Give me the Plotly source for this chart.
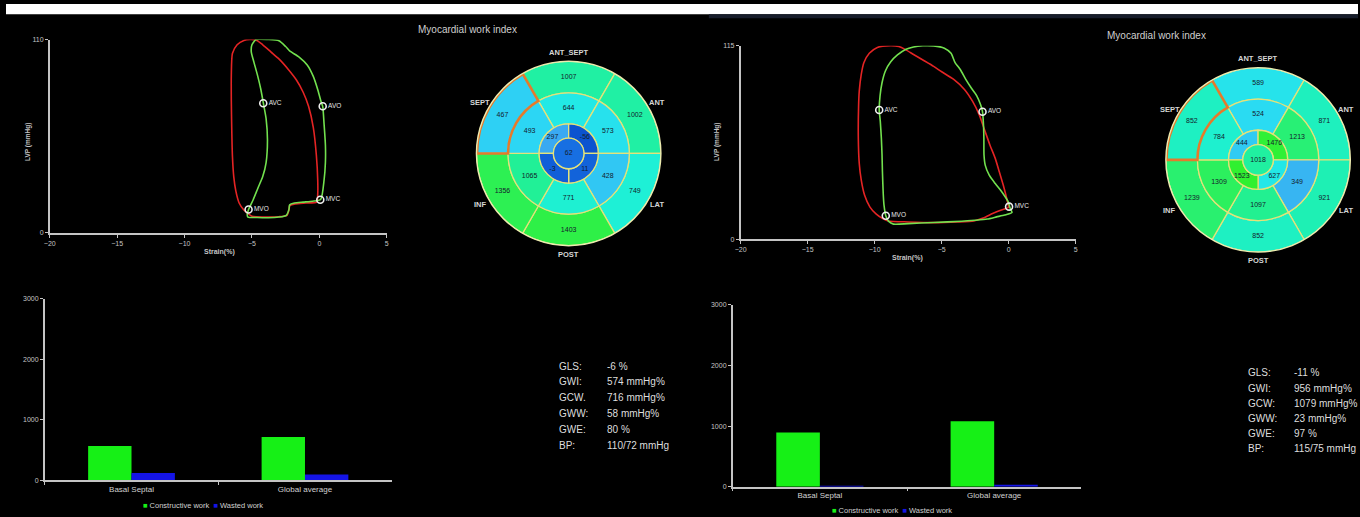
import math
import plotly.graph_objects as go

W, H = 1360, 517

# ---------------- pressure-strain loops (strain %, LVP mmHg) ----------------
left_red_strain = [-5.05, -5.6, -6.1, -6.45, -6.53, -6.53, -6.5, -6.45, -6.35, -6.2, -5.95, -5.6, -5.3,
                   -5.0, -4.0, -3.0, -2.4, -2.25, -2.2, -1.8, -1.0, -0.2,
                   -0.12, -0.12, -0.22, -0.45, -0.8, -1.2, -1.7, -2.3, -3.0, -3.6, -4.2, -4.6, -5.05]
left_red_lvp = [110, 109.5, 107, 102, 90, 75, 60, 44, 32, 24, 17, 13, 11,
                9.5, 9.0, 9.2, 10, 13, 15.5, 16.5, 17.0, 17.5,
                22, 30, 44, 60, 72, 80, 87, 93, 99, 103, 107, 109.3, 110]

left_green_strain = [-4.7, -3.8, -3.0, -2.5, -2.2, -1.5, -0.9, -0.45, -0.1, 0.15, 0.25, 0.35, 0.45, 0.45,
                     0.35, 0.1, -0.5, -1.2, -1.85, -2.2, -2.25, -2.45, -3.0, -3.8, -4.6, -5.3, -5.35,
                     -5.25, -4.9, -4.56, -4.2, -3.95, -3.85, -3.95, -4.15, -4.35, -4.6, -4.85, -5.05, -5.0, -4.7]
left_green_lvp = [110, 110, 109.3, 106, 103.5, 100, 95.5, 89, 81, 74, 72, 62, 50, 40,
                  30, 19, 18, 17.5, 17, 16, 13.5, 10, 9.0, 8.6, 8.7, 9.0, 10.5,
                  13.3, 19, 25.4, 32, 40, 53, 65, 73.7, 82, 90, 97, 103, 107, 110]

right_red_strain = [-8.8, -9.8, -10.4, -10.8, -11.0, -11.15, -11.2, -11.22, -11.15, -11.0, -10.75, -10.35,
                    -9.9, -9.4, -9.0, -7.5, -5.6, -3.8, -2.6, -1.9, -1.2, -0.6, -0.02,
                    -0.1, -0.4, -0.7, -1.0, -1.4, -1.8, -2.2, -2.7, -3.3, -4.1, -5.0, -5.6, -6.4,
                    -7.1, -7.7, -8.2, -8.8]
right_red_lvp = [115, 114, 110.5, 105, 98, 88, 79, 60, 45, 35, 26, 19,
                 15, 12.2, 10.8, 10.2, 9.8, 10.2, 10.8, 12.5, 15.2, 17.2, 18.8,
                 22.5, 32, 40, 48, 56, 65, 74, 82, 89, 95, 99.5, 102.7, 106.5,
                 109.8, 112.7, 114.5, 115]

right_green_strain = [-7.1, -6.4, -5.6, -4.8, -4.3, -4.0, -3.6, -3.2, -2.8, -2.4, -2.1, -1.95, -1.88,
                      -1.85, -1.84, -1.75, -1.45, -1.0, -0.6, -0.25, -0.02, 0.1, 0.25, -0.3, -0.9,
                      -1.6, -2.5, -3.5, -5.6, -7.5, -8.6, -8.95, -9.17, -9.3, -9.36, -9.42, -9.45,
                      -9.5, -9.58, -9.66, -9.6, -9.45, -9.2, -8.8, -8.3, -7.7, -7.1]
right_green_lvp = [114.3, 115, 114.9, 113.5, 110.5, 105, 100.7, 95, 90, 85.5, 80, 75.7, 68,
                   60, 50, 44, 38, 33, 29, 25, 22, 18.6, 15.8, 14.3, 13.2,
                   11.9, 11.2, 10.6, 9.9, 9.2, 8.9, 10.5, 13.9, 20, 27, 40, 50,
                   60, 70, 76.8, 85, 93, 100, 105.5, 109.5, 112.8, 114.3]

valve_events = ["AVC", "AVO", "MVC", "MVO"]
left_event_strain = [-4.16, 0.25, 0.07, -5.25]
left_event_lvp = [73.7, 72.0, 18.8, 13.3]
right_event_strain = [-9.66, -1.95, 0.03, -9.17]
right_event_lvp = [76.8, 75.7, 19.3, 13.9]

strain_ticks = [-20, -15, -10, -5, 0, 5]
left_lvp_max = 110
right_lvp_max = 115

# ---------------- work bars ----------------
bar_categories = ["Basal Septal", "Global average"]
left_constructive = [570, 716]
left_wasted = [125, 100]
right_constructive = [895, 1079]
right_wasted = [6, 23]
work_ticks = [0, 1000, 2000, 3000]

# ---------------- 17-segment bull's eye (mmHg%) ----------------
# basal / mid order: ANT_SEPT, ANT, LAT, POST, INF, SEPT
# apical order: upper-left, upper-right, lower-right, lower-left
left_basal = [1007, 1002, 749, 1403, 1356, 467]
left_mid = [644, 573, 428, 771, 1065, 493]
left_apical = [297, -56, 11, -3]
left_apex = 62

right_basal = [589, 871, 921, 852, 1239, 852]
right_mid = [524, 1213, 349, 1097, 1309, 784]
right_apical = [444, 1476, 627, 1523]
right_apex = 1018

wall_names = ["ANT_SEPT", "ANT", "LAT", "POST", "INF", "SEPT"]

left_stats = [("GLS:", "-6 %"), ("GWI:", "574 mmHg%"), ("GCW.", "716 mmHg%"),
              ("GWW:", "58 mmHg%"), ("GWE:", "80 %"), ("BP:", "110/72 mmHg")]
right_stats = [("GLS:", "-11 %"), ("GWI:", "956 mmHg%"), ("GCW:", "1079 mmHg%"),
               ("GWW:", "23 mmHg%"), ("GWE:", "97 %"), ("BP:", "115/75 mmHg")]

FONT = "Liberation Sans, Arial, sans-serif"
AXIS_GREY = "#c4c4c4"
TEXT_GREY = "#d2d2d2"
RED = "#e42424"
GREEN = "#72e04e"
BAR_GREEN = "#16f016"
BAR_BLUE = "#1414e6"
SEG_LINE = "#e4e27a"
HIGHLIGHT = "#e47a2c"

# ring radii in px of the bull's eye (apex, apical, mid, basal outer)
R_APEX, R_APICAL, R_MID, R_OUT = 15.5, 30.0, 61.5, 93.5
SEG_THETA = [90, 30, 330, 270, 210, 150]
APICAL_THETA = [135, 45, 315, 225]

WORK_SCALE = [[0.0, "#0848c8"], [0.125, "#1a78e8"], [0.25, "#3aaaf2"], [0.375, "#2cd8f4"],
              [0.5, "#1ef0e0"], [0.625, "#1ef0b8"], [0.75, "#22f090"], [0.875, "#2cf060"],
              [1.0, "#30f030"]]
W_MIN, W_MAX = -100, 1500


def fx(p):
    return p / W


def fy(p):
    return 1 - p / H


fig = go.Figure()


def add_loop(red_s, red_p, green_s, green_p, ev_s, ev_p, xa, ya):
    fig.add_trace(go.Scatter(x=red_s, y=red_p, mode="lines",
                             line=dict(color=RED, width=1.6, shape="spline", smoothing=0.6),
                             xaxis=xa, yaxis=ya, showlegend=False, hoverinfo="skip"))
    fig.add_trace(go.Scatter(x=green_s, y=green_p, mode="lines",
                             line=dict(color=GREEN, width=1.6, shape="spline", smoothing=0.6),
                             xaxis=xa, yaxis=ya, showlegend=False, hoverinfo="skip"))
    fig.add_trace(go.Scatter(x=ev_s, y=ev_p, mode="markers+text", text=valve_events, textposition="middle right",
                             textfont=dict(family=FONT, size=6.5, color="#e6e6e6"),
                             marker=dict(symbol="circle-open", size=7, color="#eeeeee", line=dict(width=1.6)),
                             xaxis=xa, yaxis=ya, showlegend=False, hoverinfo="skip"))


add_loop(left_red_strain, left_red_lvp, left_green_strain, left_green_lvp,
         left_event_strain, left_event_lvp, "x", "y")
add_loop(right_red_strain, right_red_lvp, right_green_strain, right_green_lvp,
         right_event_strain, right_event_lvp, "x3", "y3")


def add_bars(cons, wasted, xa, ya):
    fig.add_trace(go.Bar(x=bar_categories, y=cons, marker=dict(color=BAR_GREEN, line=dict(width=0)),
                         xaxis=xa, yaxis=ya, showlegend=False, hoverinfo="skip"))
    fig.add_trace(go.Bar(x=bar_categories, y=wasted, marker=dict(color=BAR_BLUE, line=dict(width=0)),
                         xaxis=xa, yaxis=ya, showlegend=False, hoverinfo="skip"))


add_bars(left_constructive, left_wasted, "x2", "y2")
add_bars(right_constructive, right_wasted, "x4", "y4")


def add_bullseye(basal, mid, apical, apex, polar, highlight_idx):
    values = basal + mid + apical + [apex]
    thetas = SEG_THETA + SEG_THETA + APICAL_THETA + [0]
    widths = [60] * 12 + [90] * 4 + [360]
    bases = [R_MID] * 6 + [R_APICAL] * 6 + [R_APEX] * 4 + [0]
    lengths = [R_OUT - R_MID] * 6 + [R_MID - R_APICAL] * 6 + [R_APICAL - R_APEX] * 4 + [R_APEX]
    fig.add_trace(go.Barpolar(r=lengths, base=bases, theta=thetas, width=widths,
                              marker=dict(color=values, colorscale=WORK_SCALE, cmin=W_MIN, cmax=W_MAX,
                                          line=dict(color=SEG_LINE, width=1.3)),
                              subplot=polar, showlegend=False, hoverinfo="skip"))
    # highlighted basal septal segment
    fig.add_trace(go.Barpolar(r=[R_OUT - R_MID - 0.6], base=[R_MID], theta=[SEG_THETA[highlight_idx]], width=[60],
                              marker=dict(color="rgba(0,0,0,0)", line=dict(color=HIGHLIGHT, width=2.6)),
                              subplot=polar, showlegend=False, hoverinfo="skip"))
    label_r = ([(R_MID + R_OUT) / 2] * 6 + [(R_APICAL + R_MID) / 2] * 6
               + [(R_APEX + R_APICAL) / 2 + 0.5] * 4 + [0])
    fig.add_trace(go.Scatterpolar(r=label_r, theta=thetas, mode="text", text=[str(v) for v in values],
                                  textfont=dict(family=FONT, size=7, color="#14202c"),
                                  subplot=polar, showlegend=False, hoverinfo="skip"))


add_bullseye(left_basal, left_mid, left_apical, left_apex, "polar", 5)
add_bullseye(right_basal, right_mid, right_apical, right_apex, "polar2", 5)

# geometry of the panels (px)
LEFT_EYE = (566, 151.5)
RIGHT_EYE = (1259.5, 158.0)


def polar_layout(center):
    cx, cy = center
    return dict(domain=dict(x=[fx(cx - R_OUT), fx(cx + R_OUT)], y=[fy(cy + R_OUT), fy(cy - R_OUT)]),
                bgcolor="black", barmode="overlay", bargap=0,
                radialaxis=dict(visible=False, range=[0, R_OUT]),
                angularaxis=dict(direction="counterclockwise", rotation=0, showgrid=False,
                                 showticklabels=False, ticks="", showline=True,
                                 linecolor="#ecebb0", linewidth=1.4))


def loop_xaxis(x0, x1, anchor):
    return dict(domain=[fx(x0), fx(x1)], range=[-20, 5], tickvals=strain_ticks, anchor=anchor,
                showline=True, linecolor=AXIS_GREY, linewidth=1.5, ticks="outside", ticklen=3,
                tickcolor=AXIS_GREY, showgrid=False, zeroline=False,
                tickfont=dict(family=FONT, size=7, color=AXIS_GREY))


def loop_yaxis(y_bottom, y_top, ymax, anchor):
    return dict(domain=[fy(y_bottom), fy(y_top)], range=[0, ymax], tickvals=[0, ymax], anchor=anchor,
                showline=True, linecolor=AXIS_GREY, linewidth=1.5, ticks="outside", ticklen=3,
                tickcolor=AXIS_GREY, showgrid=False, zeroline=False,
                tickfont=dict(family=FONT, size=7, color=AXIS_GREY))


def bar_xaxis(x0, x1, anchor):
    return dict(domain=[fx(x0), fx(x1)], range=[-0.5, 1.5], anchor=anchor, type="category",
                showline=True, linecolor=AXIS_GREY, linewidth=1.5, ticks="outside", ticklen=3,
                tickson="boundaries", tickcolor=AXIS_GREY, showgrid=False, zeroline=False,
                tickfont=dict(family=FONT, size=8, color=TEXT_GREY))


def bar_yaxis(y_bottom, y_top, anchor):
    return dict(domain=[fy(y_bottom), fy(y_top)], range=[0, 3000], tickvals=work_ticks, anchor=anchor,
                showline=True, linecolor=AXIS_GREY, linewidth=1.5, ticks="outside", ticklen=3,
                tickcolor=AXIS_GREY, showgrid=False, zeroline=False,
                tickfont=dict(family=FONT, size=7, color=AXIS_GREY))


annotations = []


def note(px, py, text, size, color=TEXT_GREY, xanchor="center", angle=0):
    # left-anchored labels: compensate for the annotation's inner padding
    shift = -3 if xanchor == "left" else 0
    annotations.append(dict(x=fx(px + shift), y=fy(py), xref="paper", yref="paper", text=text,
                            showarrow=False, xanchor=xanchor, yanchor="middle", textangle=angle,
                            font=dict(family=FONT, size=size, color=color)))


# axis titles
note(22, 140, "<b>LVP (mmHg)</b>", 6.5, AXIS_GREY, angle=-90)
note(215, 251, "<b>Strain(%)</b>", 7, AXIS_GREY)
note(715, 140, "<b>LVP (mmHg)</b>", 6.5, AXIS_GREY, angle=-90)
note(907, 257, "<b>Strain(%)</b>", 7, AXIS_GREY)

# panel titles
note(415, 26, "Myocardial work index", 10, "#cfcfcf", xanchor="left")
note(1108, 32, "Myocardial work index", 10, "#cfcfcf", xanchor="left")

# wall names around the bull's eyes
for center in (LEFT_EYE, RIGHT_EYE):
    cx, cy = center
    for name, th in zip(wall_names, SEG_THETA):
        rr = 102.5
        note(cx + rr * math.cos(math.radians(th)), cy - rr * math.sin(math.radians(th)),
             "<b>" + name + "</b>", 7.5, "#d6d6d6")

# global indices
for i, (k, v) in enumerate(left_stats):
    note(557.5, 367 + i * 16.05, k, 10, "#dedede", xanchor="left")
    note(606, 367 + i * 16.05, v, 10, "#dedede", xanchor="left")
for i, (k, v) in enumerate(right_stats):
    note(1250, 374 + i * 15.35, k, 10, "#dedede", xanchor="left")
    note(1297, 374 + i * 15.35, v, 10, "#dedede", xanchor="left")

# bar legends
legend_text = ('<span style="color:%s">■</span> Constructive work  '
               '<span style="color:%s">■</span> Wasted work') % (BAR_GREEN, BAR_BLUE)
note(198.5, 508, legend_text, 7.5, TEXT_GREY)
note(891.5, 513, legend_text, 7.5, TEXT_GREY)

shapes = [
    dict(type="rect", xref="paper", yref="paper", x0=0, x1=1, y0=fy(10.5), y1=1,
         fillcolor="white", line=dict(width=0), layer="above"),
    dict(type="rect", xref="paper", yref="paper", x0=fx(707), x1=1, y0=fy(14.5), y1=fy(10.5),
         fillcolor="#161c2a", line=dict(width=0), layer="above"),
]

fig.update_layout(
    width=W, height=H, margin=dict(l=0, r=0, t=0, b=0),
    paper_bgcolor="black", plot_bgcolor="black",
    font=dict(family=FONT, color=TEXT_GREY),
    barmode="group", bargap=0.5, bargroupgap=0,
    showlegend=False,
    xaxis=loop_xaxis(44, 383, "y"), yaxis=loop_yaxis(232, 36, left_lvp_max, "x"),
    xaxis2=bar_xaxis(39, 388, "y2"), yaxis2=bar_yaxis(483, 298.7, "x2"),
    xaxis3=loop_xaxis(739, 1076, "y3"), yaxis3=loop_yaxis(238.3, 42.3, right_lvp_max, "x3"),
    xaxis4=bar_xaxis(731, 1081.7, "y4"), yaxis4=bar_yaxis(489.3, 305, "x4"),
    polar=polar_layout(LEFT_EYE), polar2=polar_layout(RIGHT_EYE),
    annotations=annotations, shapes=shapes,
)

fig.write_html("out.html")
